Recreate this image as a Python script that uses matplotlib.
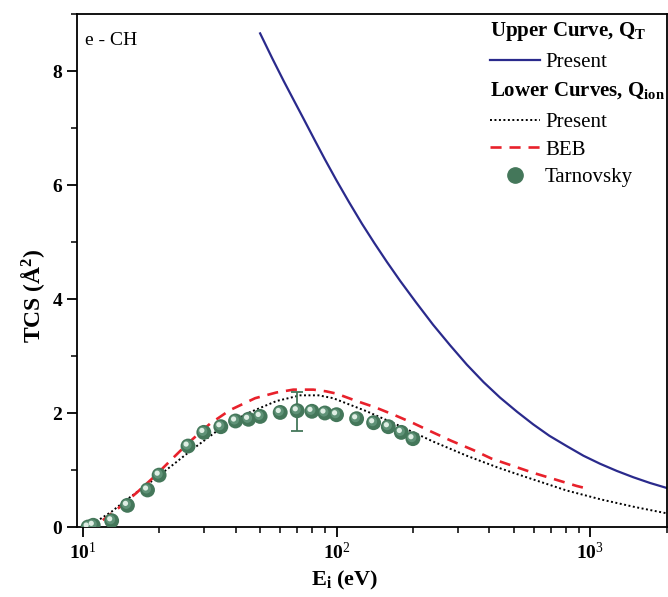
import numpy as np
import matplotlib
matplotlib.use("Agg")
import matplotlib.pyplot as plt
from matplotlib.lines import Line2D
from matplotlib import transforms
from matplotlib.ticker import FixedLocator, FuncFormatter, LogLocator, NullFormatter, MultipleLocator

plt.rcParams['font.family'] = ['Liberation Serif', 'DejaVu Serif']
plt.rcParams['mathtext.fontset'] = 'custom'
plt.rcParams['mathtext.rm'] = 'Liberation Serif'
plt.rcParams['mathtext.bf'] = 'Liberation Serif:bold'
plt.rcParams['mathtext.it'] = 'Liberation Serif:italic'

# ---- data ----
qt_energy = [50, 56, 62, 68, 74, 82, 90, 100, 112, 126, 141, 158, 178, 205, 240, 280, 326, 380, 441,
             515, 596, 690, 807, 940, 1092, 1270, 1477, 1720, 2000]
qt_present = [8.66, 8.21, 7.82, 7.48, 7.17, 6.79, 6.45, 6.08, 5.70, 5.32, 4.98, 4.65, 4.32, 3.95, 3.55,
              3.19, 2.85, 2.54, 2.27, 2.02, 1.80, 1.60, 1.42, 1.25, 1.11, 0.985, 0.873, 0.772, 0.685]

qion_energy = [10.6, 11, 12, 13, 14.7, 18.4, 22.8, 27, 33.7, 44.3, 58, 72, 85, 97, 131.5, 178, 240,
               326, 428, 513, 807, 1110, 1500, 2000]
qion_present = [0.0, 0.06, 0.17, 0.27, 0.46, 0.78, 1.10, 1.36, 1.68, 1.99, 2.21, 2.31, 2.31, 2.26, 2.03,
                1.77, 1.50, 1.25, 1.05, 0.93, 0.64, 0.48, 0.35, 0.24]

beb_energy = [12, 14, 16.3, 19, 22.1, 26, 31.7, 38, 47.8, 58, 67.6, 81, 91, 100, 120, 142, 170, 201, 237,
              284, 346, 408, 596, 884, 1000]
beb_values = [0.12, 0.35, 0.60, 0.87, 1.16, 1.47, 1.81, 2.05, 2.26, 2.36, 2.41, 2.41, 2.38, 2.34, 2.21, 2.10,
              1.96, 1.82, 1.67, 1.51, 1.35, 1.20, 0.95, 0.72, 0.66]

tarn_energy = [10.5, 11, 13, 15, 18, 20, 26, 30, 35, 40, 45, 50, 60, 70, 80, 90, 100, 120, 140, 160, 180, 200]
tarn_values = [0.0, 0.03, 0.11, 0.38, 0.65, 0.91, 1.42, 1.66, 1.76, 1.86, 1.89, 1.94, 2.01, 2.04, 2.03, 2.00,
               1.97, 1.90, 1.83, 1.76, 1.66, 1.55]
err_energy = [70]
err_value = [2.03]
err_size = [0.345]

x_ticks = [10, 100, 1000]
x_ticklabels = ['10$^{1}$', '10$^{2}$', '10$^{3}$']
y_ticks = [0, 2, 4, 6, 8]

# ---- figure ----
fig = plt.figure(figsize=(6.68, 5.97), dpi=100)
ax = fig.add_axes([77.3 / 668, 70 / 597, 589.4 / 668, 513 / 597])

blue = '#2a2a8c'
red = '#e8212b'
green = '#44775a'

ax.plot(qt_energy, qt_present, color=blue, lw=1.6, label='Present')
ax.plot(qion_energy, qion_present, color='black', lw=1.4, linestyle=(0, (1, 1.3)), label='Present')
ax.plot(beb_energy, beb_values, color=red, lw=1.9, linestyle=(0, (4.2, 3.0)), label='BEB')

ax.errorbar(err_energy, err_value, yerr=err_size, fmt='none', ecolor=green, elinewidth=1.3,
            capsize=4.5, capthick=1.3, zorder=3)
ax.scatter(tarn_energy, tarn_values, s=115, color=green, edgecolors='none', zorder=4)
mid = transforms.offset_copy(ax.transData, fig=fig, x=-0.8, y=0.8, units='points')
ax.scatter(tarn_energy, tarn_values, s=45, color='#5f9277', edgecolors='none', zorder=5, transform=mid)
hl = transforms.offset_copy(ax.transData, fig=fig, x=-1.4, y=1.4, units='points')
ax.scatter(tarn_energy, tarn_values, s=14, color='#dfeee4', edgecolors='none', zorder=6, transform=hl)

ax.set_xscale('log')
ax.set_xlim(9.52, 2000)
ax.set_ylim(0, 9.0)

ax.xaxis.set_major_locator(FixedLocator(x_ticks))
ax.xaxis.set_major_formatter(FuncFormatter(lambda v, p: x_ticklabels[x_ticks.index(int(round(v)))] if int(round(v)) in x_ticks else ''))
ax.xaxis.set_minor_locator(LogLocator(base=10, subs=np.arange(2, 10), numticks=20))
ax.xaxis.set_minor_formatter(NullFormatter())
ax.yaxis.set_major_locator(FixedLocator(y_ticks))
ax.yaxis.set_minor_locator(MultipleLocator(1))

ax.tick_params(which='major', direction='out', length=7, width=1.3, labelsize=14, pad=4)
ax.tick_params(which='minor', direction='out', length=4, width=1.1)
for lab in ax.get_xticklabels() + ax.get_yticklabels():
    lab.set_fontweight('bold')
for sp in ax.spines.values():
    sp.set_linewidth(1.3)

ax.set_xlabel('E$_\\mathregular{i}$ (eV)', fontsize=16, fontweight='bold')
ax.set_ylabel('TCS (Å$^\\mathregular{2}$)', fontsize=17, fontweight='bold')
ax.xaxis.set_label_coords(0.454, -0.082)
ax.yaxis.set_label_coords(-0.052, 0.45)

ax.text(0.013, 0.965, 'e - CH', transform=ax.transAxes, fontsize=14, va='top', ha='left')

# legend headers
ax.text(0.700, 0.965, 'Upper Curve, Q$_\\mathregular{T}$', transform=ax.transAxes, fontsize=15,
        fontweight='bold', va='center', ha='left')
ax.text(0.700, 0.851, 'Lower Curves, Q$_\\mathregular{ion}$', transform=ax.transAxes, fontsize=15,
        fontweight='bold', va='center', ha='left')

h_blue = Line2D([], [], color=blue, lw=1.6)
h_dot = Line2D([], [], color='black', lw=1.4, linestyle=(0, (1, 1.3)))
h_red = Line2D([], [], color=red, lw=1.9, linestyle=(0, (4.2, 3.0)))
h_sph = Line2D([], [], marker='o', color=green, markersize=11, linestyle='none')

leg1 = ax.legend([h_blue], ['Present'], loc='upper left', bbox_to_anchor=(0.700, 0.925),
                 frameon=False, fontsize=15, handlelength=2.4, handletextpad=0.25, borderpad=0,
                 borderaxespad=0)
ax.add_artist(leg1)
leg2 = ax.legend([h_dot, h_red, h_sph], ['Present', 'BEB', 'Tarnovsky'], loc='upper left',
                 bbox_to_anchor=(0.700, 0.808), frameon=False, fontsize=15, handlelength=2.4,
                 handletextpad=0.25, borderpad=0, borderaxespad=0, labelspacing=0.39)

fig.savefig('out.png', dpi=100)
